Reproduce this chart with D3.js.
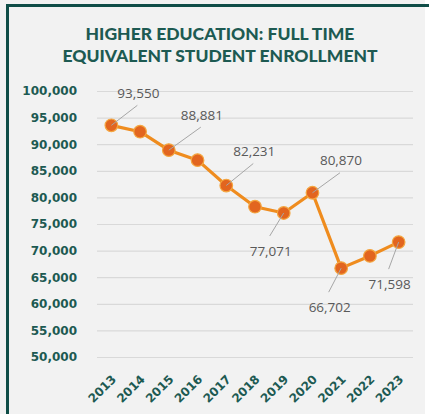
<!DOCTYPE html>
<html>
<head>
<meta charset="utf-8">
<script src="https://cdn.jsdelivr.net/npm/d3@7"></script>
<style>
html,body{margin:0;padding:0;background:#fff;}
svg{display:block;}
</style>
</head>
<body>
<svg id="c" width="429" height="414"></svg>
<script>
const years = ["2013","2014","2015","2016","2017","2018","2019","2020","2021","2022","2023"];
const enrollment = [93550, 92350, 88881, 87000, 82231, 78250, 77071, 80870, 66702, 69000, 71598];
const yTicks = [50000,55000,60000,65000,70000,75000,80000,85000,90000,95000,100000];
const titleLines = ["HIGHER EDUCATION: FULL TIME", "EQUIVALENT STUDENT ENROLLMENT"];
// labelled points: index, label center offset from point
const labelled = [0, 2, 4, 6, 7, 8, 10];
const labelOffsets = [[27,-32],[33,-35],[28,-34],[-13,38],[28.5,-32],[-11.5,39],[-9,42]];

const svg = d3.select("#c");
const teal = "#1d5a52";
svg.append("rect").attr("x",0).attr("y",0).attr("width",425).attr("height",414).attr("fill","#f2f2f2");
svg.append("rect").attr("x",6).attr("y",4).attr("width",3).attr("height",410).attr("fill","#0f4d47");
svg.append("rect").attr("x",6).attr("y",4).attr("width",423).attr("height",3).attr("fill","#0f4d47");

const title = svg.append("text").attr("text-anchor","middle").attr("fill",teal)
  .style("font-family","Lato, 'Open Sans', sans-serif").style("font-weight","900").style("font-size","17.5px");
title.selectAll("tspan").data(titleLines).join("tspan")
  .attr("x",220).attr("y",(d,i)=>40+i*22).text(d=>d);

const x = d3.scalePoint().domain(years).range([97,413]).padding(0.5);
const y = d3.scaleLinear().domain([50000,100000]).range([357,91]);

const fmt = d3.format(",");
const gy = svg.append("g").attr("transform","translate(97,0)")
  .call(d3.axisLeft(y).tickValues(yTicks).tickFormat(fmt).tickSize(-316).tickPadding(20));
gy.select(".domain").remove();
gy.selectAll(".tick line").attr("stroke","#d9d9d9").attr("stroke-width",1.2);
gy.selectAll(".tick text").attr("fill",teal).style("font-family","'DejaVu Sans', sans-serif")
  .style("font-weight","bold").style("font-size","12px");

const gx = svg.append("g").attr("transform","translate(0,357)")
  .call(d3.axisBottom(x).tickSize(0).tickPadding(0));
gx.select(".domain").remove();
gx.selectAll(".tick text").attr("fill",teal).style("font-family","'DejaVu Sans', sans-serif")
  .style("font-weight","bold").style("font-size","12px")
  .attr("text-anchor","end").attr("dy",0).attr("y",0)
  .attr("transform","translate(5,23) rotate(-45)");

const data = years.map((yr,i)=>({yr, v:enrollment[i]}));
svg.append("path").datum(data)
  .attr("fill","none").attr("stroke","#ef8c1e").attr("stroke-width",3.2).attr("stroke-linejoin","round")
  .attr("d", d3.line().x(d=>x(d.yr)).y(d=>y(d.v)));

svg.selectAll("circle.pt").data(data).join("circle").attr("class","pt")
  .attr("cx",d=>x(d.yr)).attr("cy",d=>y(d.v)).attr("r",6.3)
  .attr("fill","#e2651f").attr("stroke","#f4a640").attr("stroke-width",1.2);

labelled.forEach((idx,k)=>{
  const d = data[idx];
  const px = x(d.yr), py = y(d.v);
  const [dx,dy] = labelOffsets[k];
  const lx = px+dx, ly = py+dy;
  const endY = dy<0 ? ly+12 : ly-15;
  const endX = lx-1;
  svg.append("line").attr("x1",px).attr("y1",py).attr("x2",endX).attr("y2",endY)
    .attr("stroke","#a6a6a6").attr("stroke-width",1);
  svg.append("text").attr("x",lx).attr("y",ly).attr("text-anchor","middle")
    .attr("dy","0.35em").attr("fill","#595959")
    .style("font-family","'Open Sans', sans-serif").style("font-size","13.5px")
    .text(fmt(d.v));
});
</script>
</body>
</html>
